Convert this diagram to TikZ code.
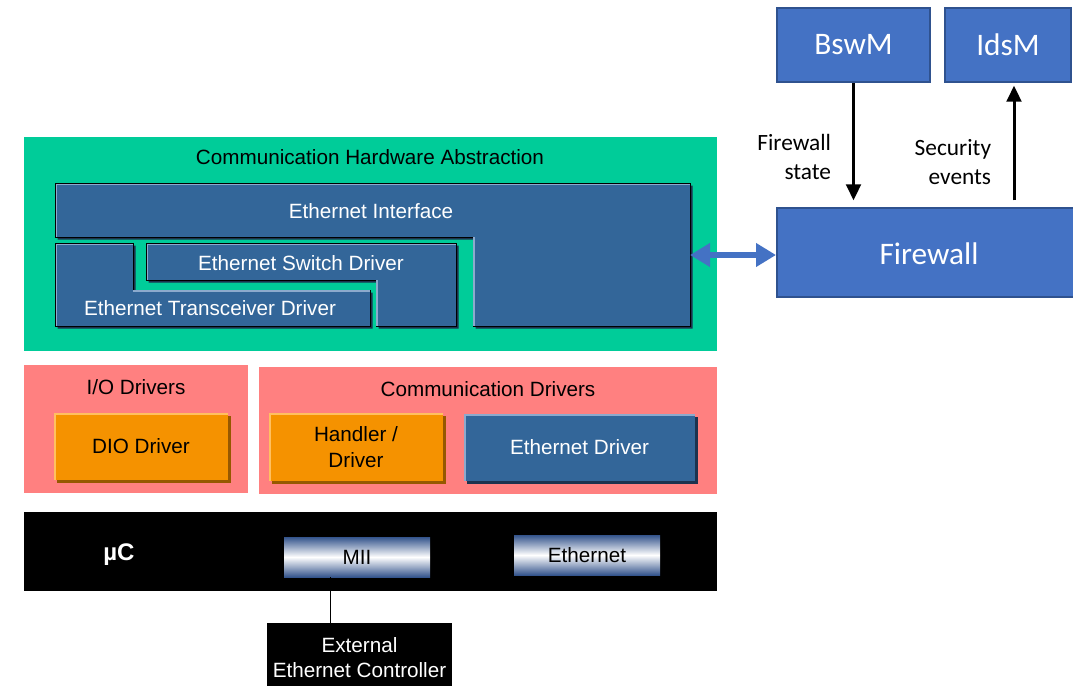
\documentclass[tikz,border=0pt]{standalone}
\usepackage{fontspec}
\setmainfont{Liberation Sans}
\newfontfamily\calibri{Carlito}
\usetikzlibrary{arrows.meta,fit,positioning}

\definecolor{habgreen}{RGB}{0,204,153}
\definecolor{drvpink}{RGB}{255,128,128}
\definecolor{drvorange}{RGB}{245,146,0}
\definecolor{orglight}{RGB}{255,192,96}
\definecolor{orgdark}{RGB}{150,88,0}
\definecolor{ethblue}{RGB}{51,102,153}
\definecolor{ethlight}{RGB}{140,170,205}
\definecolor{ethdark}{RGB}{28,50,78}
\definecolor{fwblue}{RGB}{68,114,196}
\definecolor{fwborder}{RGB}{47,82,143}
\definecolor{gradblue}{RGB}{52,84,140}

\tikzset{every picture/.style={line width=0.75pt}}

\begin{document}
\begin{tikzpicture}[x=0.75pt,y=0.75pt,yscale=-1,xscale=1,
  lbl/.style={font=\fontsize{15.5}{19}\selectfont},
  bevel/.style n args={3}{fill=#1, preaction={fill=#3, transform canvas={shift={(2.5,-2.5)}}},
    path picture={\draw[#2, line width=3] (path picture bounding box.south west) -- (path picture bounding box.north west) -- (path picture bounding box.north east);}},
  ethshape/.style={bevel={ethblue}{ethlight}{ethdark}},
  orgshape/.style={bevel={drvorange}{orglight}{orgdark}},
  area/.style={inner sep=0},
  gradbox/.style={inner sep=0, top color=gradblue, bottom color=gradblue, middle color=white},
  fwbox/.style={inner sep=0, fill=fwblue, draw=fwborder, line width=1.5},
  fwtext/.style={text=white, font=\calibri\fontsize{23.5}{28}\selectfont},
  blkarrow/.style={line width=2.25, -{Triangle[width=11,length=12]}},
  dblarrow/.style={draw=fwblue, line width=4.5, {Triangle[width=17,length=15]}-{Triangle[width=17,length=15]}}]
\useasboundingbox (0,0) rectangle (1073,685);

%Shape: Rectangle [Communication Hardware Abstraction]
\node[area, fill=habgreen, fit={(24,137) (717,351)}] (hab) {};
\node[lbl] (habtitle) at (370,157) {Communication Hardware Abstraction};

%Shape: Polygon [Ethernet Interface]
\draw[ethshape] (55,183) -- (690,183) -- (690,326) -- (473,326) -- (473,237) -- (55,237) -- cycle;
\draw[ethlight, line width=1.5] (473.75,237) -- (473.75,326);
%Shape: Polygon [Transceiver]
\draw[ethshape] (55,243) -- (133,243) -- (133,290) -- (370,290) -- (370,326) -- (55,326) -- cycle;
\draw[ethlight, line width=1.5] (133,290.75) -- (370,290.75);
%Shape: Polygon [Switch]
\draw[ethshape] (146,243) -- (456,243) -- (456,326) -- (376,326) -- (376,280) -- (146,280) -- cycle;
\draw[ethlight, line width=1.5] (376.75,280) -- (376.75,326);
\coordinate (eiR) at (690,255);

% Text Node
\node[lbl, text=white] (ethif) at (371,211) {Ethernet Interface};
% Text Node
\node[lbl, text=white] (ethswitch) at (301,263) {Ethernet Switch Driver};
% Text Node
\node[lbl, text=white] (ethtrcv) at (210,308) {Ethernet Transceiver Driver};

%Shape: Rectangle [I/O Drivers]
\node[area, fill=drvpink, fit={(24,365) (248,493)}] (iodrv) {};
\node[lbl] (iotitle) at (136,387) {I/O Drivers};
\node[area, orgshape, fit={(54,413) (228,480)}] (dio) {};
\node[lbl] (diotext) at (dio.center) {DIO Driver};

%Shape: Rectangle [Communication Drivers]
\node[area, fill=drvpink, fit={(259,367) (717,494)}] (comdrv) {};
\node[lbl] (comtitle) at (488,389) {Communication Drivers};
\node[area, orgshape, fit={(269,413) (443,481)}] (handler) {};
\node[lbl, align=center] (handlertext) at (handler.center) {Handler /\\Driver};
\node[area, ethshape, fit={(464,414) (695,481)}] (ethdrv) {};
\node[lbl, text=white] (ethdrvtext) at (ethdrv.center) {Ethernet Driver};

%Shape: Rectangle [uC]
\node[area, fill=black, fit={(24,512) (717,591)}] (uc) {};
\node[text=white, font=\bfseries\fontsize{18}{21}\selectfont] (uclabel) at (119,555) {µC};
\node[gradbox, fit={(284,537) (430,577)}] (mii) {};
\node[lbl] (miitext) at (mii.center) {MII};
\node[gradbox, fit={(514,535) (660,575)}] (eth) {};
\node[lbl] (ethtext) at (eth.center) {Ethernet};

%Shape: Rectangle [External Ethernet Controller]
\node[area, fill=black, fit={(267,623) (452,687)}] (extctrl) {};
\node[lbl, text=white, align=center] (exttext) at ([yshift=2]extctrl.center) {External\\Ethernet Controller};
\coordinate (miitap) at (330,577);
\draw (miitap) -- (miitap |- extctrl.north);

%Shape: Rectangle [BswM, IdsM, Firewall]
\node[fwbox, fit={(777,8) (930,82)}] (bswm) {};
\node[fwtext] (bswmtext) at (bswm.center) {BswM};
\node[fwbox, fit={(945,8) (1071,82)}] (idsm) {};
\node[fwtext] (idsmtext) at (idsm.center) {IdsM};
\node[fwbox, fit={(777,208) (1076,297)}] (firewall) {};
\node[fwtext] (firewalltext) at (929,254) {Firewall};

%Straight Lines
\draw[blkarrow] (bswm.south) -- ([yshift=-5]bswm.south |- firewall.north);
\draw[blkarrow] ([xshift=4.5,yshift=-5]idsm.south |- firewall.north) -- ([xshift=4.5,yshift=2]idsm.south);
\draw[dblarrow] (eiR) -- (eiR -| firewall.west);

% Text Node
\node[anchor=east, align=right, font=\calibri\fontsize{17.5}{22}\selectfont] (fwstate) at (836,157) {Firewall\\state};
% Text Node
\node[anchor=east, align=right, font=\calibri\fontsize{17.5}{22}\selectfont] (secevents) at (996,162) {Security\\events};

\end{tikzpicture}
\end{document}
